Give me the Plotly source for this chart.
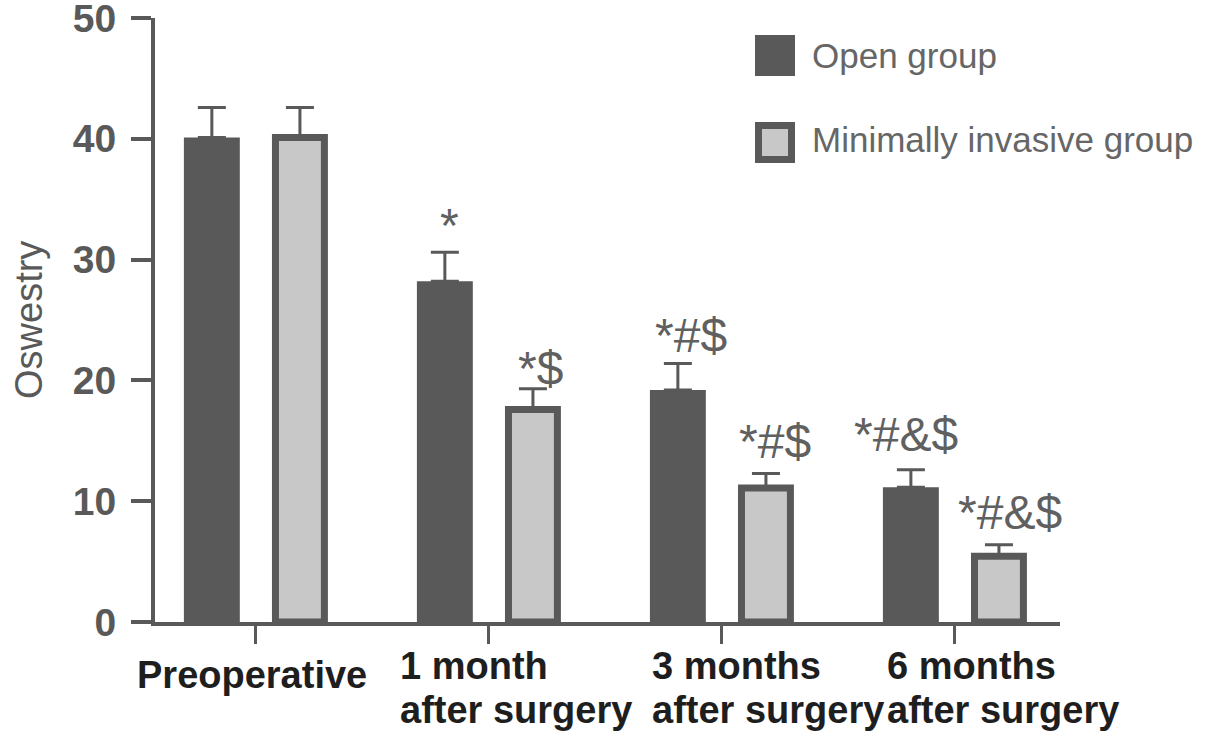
import plotly.graph_objects as go

# ---------------- data ----------------
categories = ["Preoperative", "1 month after surgery", "3 months after surgery", "6 months after surgery"]
tick_labels = ["Preoperative", "1 month<br>after surgery", "3 months<br>after surgery", "6 months<br>after surgery"]
series_names = ["Open group", "Minimally invasive group"]
open_mean = [40.1, 28.2, 19.2, 11.15]
open_sd = [2.5, 2.4, 2.2, 1.45]
mi_mean = [40.1, 17.6, 11.1, 5.45]
mi_sd = [2.5, 1.7, 1.2, 0.95]
open_marks = ["", "*", "*#$", "*#&$"]
mi_marks = ["", "*$", "*#$", "*#&$"]
y_ticks = [0, 10, 20, 30, 40, 50]

# ---------------- style ----------------
W, H = 1205, 746
L, R, T, B = 155, 1060, 18, 622   # plot-area pixel box
DARK = "#595959"
LIGHT = "#c8c8c8"
FONT = "Liberation Sans, Arial, sans-serif"
BAR_OFF = 0.189        # half distance between the two bars of a group (category units)
OPEN_W = 0.24
MI_LINE = 7
MI_W = 0.21

def px_x(p):
    return (p - L) / (R - L)

def px_y(p):
    return (B - p) / (B - T)

fig = go.Figure()
fig.add_trace(go.Bar(
    x=categories, y=open_mean, name=series_names[0],
    width=OPEN_W, offset=-BAR_OFF - OPEN_W / 2,
    marker=dict(color=DARK, line=dict(width=0)),
    error_y=dict(type="data", symmetric=False, array=open_sd, arrayminus=[0] * len(open_sd),
                 color=DARK, thickness=3, width=14),
    showlegend=False,
))
fig.add_trace(go.Bar(
    x=categories, y=mi_mean, name=series_names[1],
    width=MI_W, offset=BAR_OFF - MI_W / 2,
    marker=dict(color=LIGHT, line=dict(width=MI_LINE, color=DARK)),
    error_y=dict(type="data", symmetric=False, array=mi_sd, arrayminus=[0] * len(mi_sd),
                 color=DARK, thickness=3, width=14),
    showlegend=False,
))

annotations = []
# significance marks above error bars
mark_dx_open = [0, 5, 13, -5]
mark_dx_mi = [0, 8, 9, 11]
mark_dy_open = [0, -2, -1, 7]
mark_dy_mi = [0, -8, 3, 4]
for i, c in enumerate(categories):
    for marks, mean, sd, sgn, dx, dy in (
        (open_marks, open_mean, open_sd, -1, mark_dx_open, mark_dy_open),
        (mi_marks, mi_mean, mi_sd, 1, mark_dx_mi, mark_dy_mi),
    ):
        if marks[i]:
            annotations.append(dict(
                x=i + sgn * BAR_OFF, xref="x", y=mean[i] + sd[i], yref="y",
                text=marks[i], showarrow=False, xanchor="center", yanchor="bottom",
                xshift=dx[i], yshift=dy[i],
                font=dict(family=FONT, size=48, color="#606060"),
            ))

# category labels (left aligned blocks, as in the reference)
lab_dx = [-121, -91, -72, -70]
lab_dy = [-30, -21, -21, -21]
LINE_GAP = 44
for i, t in enumerate(tick_labels):
    for k, line in enumerate(t.split("<br>")):
        annotations.append(dict(
            x=i, xref="x", y=0, yref="y", text=line, showarrow=False,
            xanchor="left", yanchor="top", align="left",
            xshift=lab_dx[i], yshift=lab_dy[i] - k * LINE_GAP,
            font=dict(family=FONT, size=38, color="#1e1e1e", weight="bold"),
        ))

# y-axis title
annotations.append(dict(
    x=px_x(29), xref="paper", y=0.5, yref="paper", text="Oswestry", textangle=-90,
    showarrow=False, xanchor="center", yanchor="middle",
    font=dict(family=FONT, size=38, color=DARK),
))

# legend (manual, to match large swatches)
shapes = [
    dict(type="rect", xref="paper", yref="paper",
         x0=px_x(755), x1=px_x(795), y0=px_y(76), y1=px_y(35),
         fillcolor=DARK, line=dict(width=0)),
    dict(type="rect", xref="paper", yref="paper",
         x0=px_x(758.5), x1=px_x(791.5), y0=px_y(159.5), y1=px_y(125.5),
         fillcolor=LIGHT, line=dict(width=MI_LINE, color=DARK)),
]
for name, yc in zip(series_names, (55, 139)):
    annotations.append(dict(
        x=px_x(810), xref="paper", y=px_y(yc), yref="paper", text=name,
        showarrow=False, xanchor="left", yanchor="middle",
        font=dict(family=FONT, size=35, color="#666666"),
    ))

fig.update_layout(
    width=W, height=H,
    margin=dict(l=L, r=W - R, t=T, b=H - B, pad=0, autoexpand=False),
    paper_bgcolor="white", plot_bgcolor="white",
    barmode="group",
    annotations=annotations, shapes=shapes,
    font=dict(family=FONT),
)
fig.update_xaxes(
    type="category", range=[-0.433, 3.451], automargin=False,
    showline=True, linewidth=4, linecolor=DARK,
    ticks="outside", ticklen=18, tickwidth=3, tickcolor=DARK,
    showticklabels=False, showgrid=False, zeroline=False, fixedrange=True,
)
fig.update_yaxes(
    range=[0, 50], tickvals=y_ticks, automargin=False,
    showline=True, linewidth=4, linecolor=DARK,
    ticks="outside", ticklen=20, tickwidth=4, tickcolor=DARK,
    tickfont=dict(family=FONT, size=39, color=DARK, weight="bold"),
    ticklabelstandoff=7, ticklabeloverflow="allow",
    showgrid=False, zeroline=False, fixedrange=True,
)

fig.write_html(
    "out.html",
    config={"displayModeBar": False},
    post_script="document.body.style.margin='0';document.body.style.overflow='hidden';",
)
